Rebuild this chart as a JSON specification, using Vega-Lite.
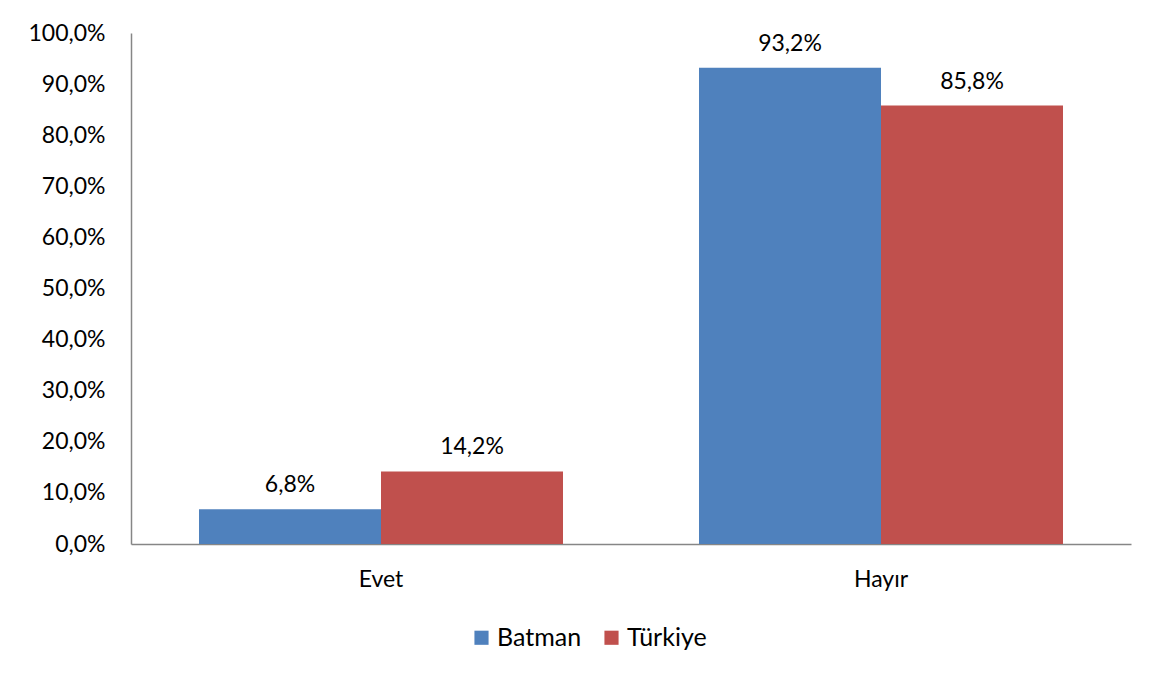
{
  "$schema": "https://vega.github.io/schema/vega-lite/v6.json",
  "width": 1000,
  "height": 511,
  "autosize": {"type": "none"},
  "padding": {"left": 131, "top": 33, "right": 23, "bottom": 131},
  "background": "white",
  "config": {
    "locale": {"number": {"decimal": ",", "thousands": ".", "grouping": [3], "currency": ["", " TL"]}},
    "font": "Lato",
    "view": {"stroke": null}
  },
  "data": {
    "values": [
      {"cevap": "Evet", "bolge": "Batman", "oran": 0.068},
      {"cevap": "Evet", "bolge": "Türkiye", "oran": 0.142},
      {"cevap": "Hayır", "bolge": "Batman", "oran": 0.932},
      {"cevap": "Hayır", "bolge": "Türkiye", "oran": 0.858}
    ]
  },
  "encoding": {
    "x": {
      "field": "cevap", "type": "nominal", "sort": ["Evet", "Hayır"],
      "scale": {"paddingInner": 0, "paddingOuter": 0},
      "axis": {"title": null, "labelAngle": 0, "labelFontSize": 23, "labelColor": "#000000", "labelPadding": 24, "ticks": false, "domainColor": "#868686", "domainWidth": 1.5}
    },
    "xOffset": {
      "field": "bolge", "type": "nominal", "sort": ["Batman", "Türkiye"],
      "scale": {"paddingInner": 0, "paddingOuter": 0.3736}
    },
    "y": {
      "field": "oran", "type": "quantitative",
      "scale": {"domain": [0, 1]},
      "axis": {"title": null, "format": ".1%", "values": [0, 0.1, 0.2, 0.3, 0.4, 0.5, 0.6, 0.7, 0.8, 0.9, 1.0], "labelOverlap": false, "grid": false, "ticks": false, "labelFontSize": 23, "labelColor": "#000000", "labelPadding": 26, "domainColor": "#868686", "domainWidth": 1.5}
    }
  },
  "layer": [
    {
      "mark": {"type": "bar"},
      "encoding": {
        "color": {
          "field": "bolge", "type": "nominal", "sort": ["Batman", "Türkiye"],
          "scale": {"domain": ["Batman", "Türkiye"], "range": ["#4F81BD", "#C0504D"]},
          "legend": {"title": null, "orient": "none", "legendX": 338, "legendY": 592, "direction": "horizontal", "symbolType": "square", "symbolSize": 200, "symbolStrokeWidth": 0, "labelFontSize": 25, "labelColor": "#000000", "columnPadding": 17, "labelOffset": 3}
        }
      }
    },
    {
      "mark": {"type": "text", "baseline": "bottom", "dy": -12, "fontSize": 23, "color": "#000000"},
      "encoding": {
        "text": {"field": "oran", "type": "quantitative", "format": ".1%"}
      }
    }
  ]
}
